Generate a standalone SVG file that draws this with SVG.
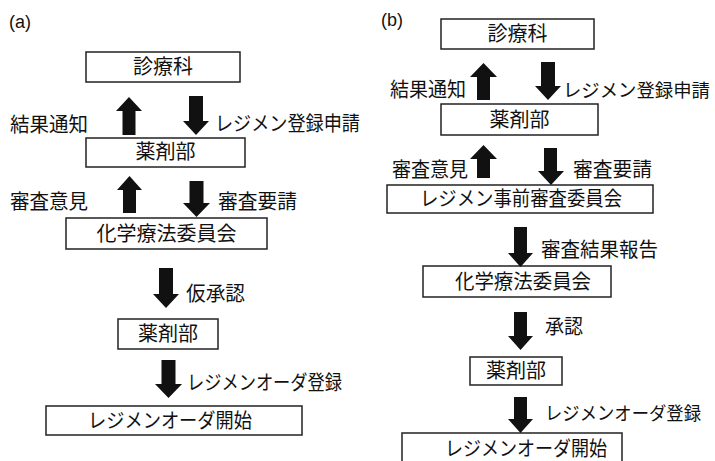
<svg xmlns="http://www.w3.org/2000/svg" width="715" height="461" viewBox="0 0 715 461">
<style>
  .box { fill: #fff; stroke: #222; stroke-width: 1.5; }
  .t { font-family: "Noto Sans CJK JP", "Noto Sans", sans-serif; font-size: 20px; fill: #111; }
  .s { font-size: 18.5px; }
  .c { text-anchor: middle; }
  .lbl { font-family: "Liberation Sans", "Noto Sans", sans-serif; font-size: 18px; fill: #111; }
  .arr { fill: #111; }
</style>
<rect width="715" height="461" fill="#fff"/>
<text class="lbl" x="9" y="28">(a)</text>
<text class="lbl" x="381" y="26">(b)</text>

<!-- Panel (a) nodes -->
<g id="a_shinryoka"><rect class="box" x="86" y="52" width="154" height="30"/><text class="t c" x="163" y="74">診療科</text></g>
<g id="a_yakuzaibu1"><rect class="box" x="86" y="138" width="159" height="29"/><text class="t c" x="165.5" y="159">薬剤部</text></g>
<g id="a_kagaku"><rect class="box" x="66" y="218" width="201" height="31"/><text class="t c" x="166.5" y="241">化学療法委員会</text></g>
<g id="a_yakuzaibu2"><rect class="box" x="118" y="319" width="100" height="30"/><text class="t c" x="168" y="341">薬剤部</text></g>
<g id="a_start"><rect class="box" x="46" y="406" width="256" height="29"/><text class="t" x="88" y="428" textLength="164" lengthAdjust="spacingAndGlyphs">レジメンオーダ開始</text></g>

<!-- Panel (b) nodes -->
<g id="b_shinryoka"><rect class="box" x="441" y="19" width="153" height="30"/><text class="t c" x="517.5" y="41">診療科</text></g>
<g id="b_yakuzaibu1"><rect class="box" x="441" y="104" width="157" height="31"/><text class="t c" x="519.5" y="127">薬剤部</text></g>
<g id="b_jizen"><rect class="box" x="387" y="185" width="266" height="28"/><text class="t" x="420" y="206" textLength="202" lengthAdjust="spacingAndGlyphs">レジメン事前審査委員会</text></g>
<g id="b_kagaku"><rect class="box" x="423" y="266" width="188" height="31"/><text class="t" x="455" y="289" textLength="136" lengthAdjust="spacingAndGlyphs">化学療法委員会</text></g>
<g id="b_yakuzaibu2"><rect class="box" x="470" y="357" width="92" height="28"/><text class="t c" x="516" y="378">薬剤部</text></g>
<g id="b_start"><rect class="box" x="402" y="433" width="220" height="40"/><text class="t" x="445" y="456" textLength="162" lengthAdjust="spacingAndGlyphs">レジメンオーダ開始</text></g>

<!-- Connectors -->
<g id="connectors">
  <!-- (a) -->
  <path class="arr" d="M129,97 L142,111 H135.5 V135 H122.5 V111 H116 Z"/>
  <path class="arr" d="M189,96 H203 V121 H209 L196,135 L183,121 H189 Z"/>
  <path class="arr" d="M129.5,176 L142,190 H136 V213 H123 V190 H117 Z"/>
  <path class="arr" d="M189.5,181 H203.5 V203 H210 L196.5,217 L183,203 H189.5 Z"/>
  <path class="arr" d="M159,268 H173 V294 H179 L166,308 L153,294 H159 Z"/>
  <path class="arr" d="M161.5,360 H175.5 V384 H182 L168.5,398 L155,384 H161.5 Z"/>
  <!-- (b) -->
  <path class="arr" d="M483.5,63 L497,77 H490 V100 H477 V77 H470 Z"/>
  <path class="arr" d="M541,62 H555 V86 H561 L548,100 L535,86 H541 Z"/>
  <path class="arr" d="M483.5,145 L497,159 H490 V178 H477 V159 H470 Z"/>
  <path class="arr" d="M544,148 H557 V171 H564 L551,185 L538,171 H544 Z"/>
  <path class="arr" d="M514,227 H527 V253 H533 L520.5,267 L508,253 H514 Z"/>
  <path class="arr" d="M514,312 H527 V336 H533 L520.5,350 L508,336 H514 Z"/>
  <path class="arr" d="M514,397 H527 V419 H533 L520.5,433 L508,419 H514 Z"/>
</g>

<!-- Connector labels (a) -->
<text class="t" x="10" y="132" textLength="78" lengthAdjust="spacingAndGlyphs">結果通知</text>
<text class="t" x="215" y="131" textLength="145" lengthAdjust="spacingAndGlyphs">レジメン登録申請</text>
<text class="t" x="10" y="209" textLength="78" lengthAdjust="spacingAndGlyphs">審査意見</text>
<text class="t" x="218" y="209" textLength="79" lengthAdjust="spacingAndGlyphs">審査要請</text>
<text class="t" x="186" y="301" textLength="59" lengthAdjust="spacingAndGlyphs">仮承認</text>
<text class="t" x="187" y="390" textLength="155" lengthAdjust="spacingAndGlyphs">レジメンオーダ登録</text>

<!-- Connector labels (b) -->
<text class="t" x="390" y="97" textLength="76" lengthAdjust="spacingAndGlyphs">結果通知</text>
<text class="t s" x="563" y="97" textLength="147" lengthAdjust="spacingAndGlyphs">レジメン登録申請</text>
<text class="t" x="392" y="177" textLength="76" lengthAdjust="spacingAndGlyphs">審査意見</text>
<text class="t" x="573" y="177" textLength="79" lengthAdjust="spacingAndGlyphs">審査要請</text>
<text class="t" x="541" y="257" textLength="117" lengthAdjust="spacingAndGlyphs">審査結果報告</text>
<text class="t" x="545" y="334" textLength="38" lengthAdjust="spacingAndGlyphs">承認</text>
<text class="t s" x="545" y="420" textLength="156" lengthAdjust="spacingAndGlyphs">レジメンオーダ登録</text>
</svg>
